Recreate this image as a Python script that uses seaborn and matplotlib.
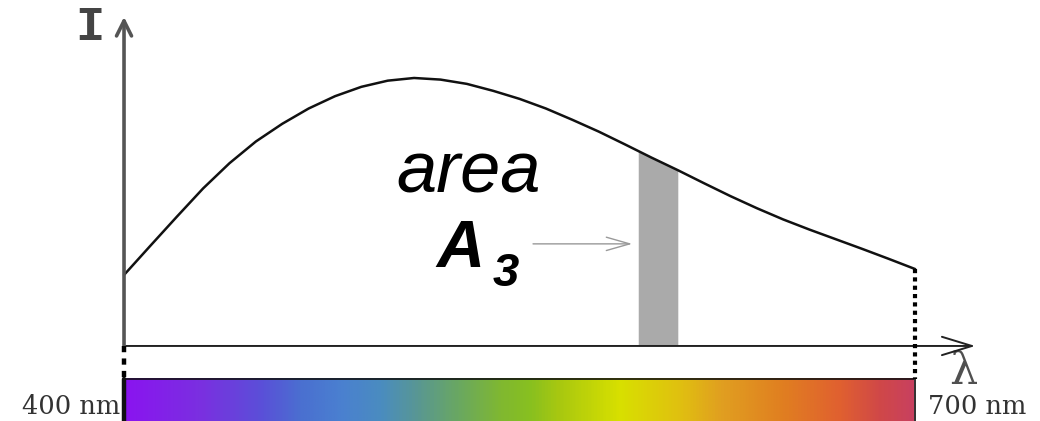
import numpy as np
import matplotlib
matplotlib.use("Agg")
import matplotlib.pyplot as plt
import seaborn as sns
from matplotlib.colors import LinearSegmentedColormap

# Emission curve: relative intensity (peak = 100) against wavelength in nm
wavelength_nm = [400, 410, 420, 430, 440, 450, 460, 470, 480, 490, 500,
                 510, 520, 530, 540, 550, 560, 570, 580, 590, 600,
                 610, 620, 630, 640, 650, 660, 670, 680, 690, 700]
intensity = [26.5, 37.4, 48.2, 58.8, 68.2, 76.3, 82.9, 88.6, 93.2, 96.7, 99.0,
             100.0, 99.4, 97.8, 95.2, 92.2, 88.6, 84.4, 80.0, 75.2, 70.3,
             65.6, 60.7, 55.9, 51.4, 47.2, 43.4, 39.8, 36.2, 32.5, 28.7]

# Narrow wavelength band whose area is highlighted
band_nm = [595, 610]

# Colour stops of the visible-spectrum strip
spectrum_nm = [400, 429, 452, 467, 482, 497, 512, 527, 543, 554, 565,
               588, 611, 626, 649, 672, 687, 700]
spectrum_colors = ["#8a14f0", "#7a30e0", "#5a50d8", "#4a70d0", "#4a80d0",
                   "#4a8cc0", "#5a9890", "#6aa860", "#80b830", "#88c020",
                   "#a8c810", "#d8e000", "#e0c010", "#e0a020", "#e08020",
                   "#e06030", "#d04848", "#c84060"]

y_label = "I"
x_label = "λ"
range_labels = ["400 nm", "700 nm"]
area_word = "area"
area_name = ["A", "3"]

sns.set_theme(style="white")

fig = plt.figure(figsize=(10.4, 4.21), dpi=100)
ax = fig.add_axes([0, 0, 1, 1])
ax.axis("off")

lo, hi = wavelength_nm[0], wavelength_nm[-1]
strip_top, strip_bottom = -12.3, -28.0
x_end, y_end = 722.8, 122.8

# Visible spectrum strip below the axis
pos = [(w - lo) / (hi - lo) for w in spectrum_nm]
cmap = LinearSegmentedColormap.from_list("spectrum", list(zip(pos, spectrum_colors)))
grad = np.linspace(lo, hi, 800)[None, :]
ax.imshow(grad, extent=[lo, hi, strip_bottom, strip_top], aspect="auto",
          cmap=cmap, vmin=lo, vmax=hi, zorder=1, interpolation="bilinear")
ax.plot([lo, hi], [strip_top, strip_top], color="#111111", lw=1.2, zorder=3)
ax.plot([lo, lo], [strip_top, strip_bottom], color="#111111", lw=3.2, zorder=3)
ax.plot([hi, hi], [strip_top, strip_bottom], color="#333333", lw=1.4, zorder=3)

# Highlighted band under the curve
bx = np.linspace(band_nm[0], band_nm[1], 40)
by = np.interp(bx, wavelength_nm, intensity)
ax.fill_between(bx, 0, by, color="#aaaaaa", lw=0, zorder=2)

# Emission curve
sns.lineplot(x=wavelength_nm, y=intensity, ax=ax, color="#111111",
             linewidth=1.8, zorder=4)

# Axes with arrow heads
ax.annotate("", xy=(x_end, 0), xytext=(lo, 0),
            arrowprops=dict(arrowstyle="->,head_length=1.8,head_width=0.55",
                            color="#222222", lw=1.4, shrinkA=0, shrinkB=0),
            zorder=5)
ax.annotate("", xy=(lo, y_end), xytext=(lo, -0.3),
            arrowprops=dict(arrowstyle="->,head_length=0.9,head_width=0.45",
                            color="#555555", lw=2.6, shrinkA=0, shrinkB=0),
            zorder=5)

# Dotted drop lines at the ends of the range
ax.plot([lo, lo], [0, strip_top], color="black", lw=3.2,
        dashes=(1.4, 1.4), zorder=5)
ax.plot([hi, hi], [intensity[-1], strip_top], color="black", lw=3.0,
        dashes=(1.0, 1.0), zorder=5)

# Labels
ax.text(387.1, 119.0, y_label, family="Liberation Mono", weight="bold",
        fontsize=35, color="#444444", ha="center", va="center")
ax.text(718.2, -14.2, x_label, family="DejaVu Serif",
        fontsize=32, color="#505050", ha="center", va="baseline")
ax.text(398.5, -25.4, range_labels[0], family="DejaVu Serif",
        fontsize=18.5, color="#333333", ha="right", va="baseline")
ax.text(704.9, -25.4, range_labels[1], family="DejaVu Serif",
        fontsize=18.5, color="#333333", ha="left", va="baseline")

ax.text(530.8, 57.1, area_word, family="Liberation Sans", style="italic",
        fontsize=52, color="black", ha="center", va="baseline")
ax.text(518.3, 29.5, area_name[0], family="Liberation Sans", style="italic",
        weight="bold", fontsize=48, color="black", ha="left", va="baseline")
ax.text(539.6, 22.3, area_name[1], family="Liberation Sans", style="italic",
        weight="bold", fontsize=34, color="black", ha="left", va="baseline")

# Pointer from the label to the band
ax.annotate("", xy=(592.7, 38.1), xytext=(555.1, 38.1),
            arrowprops=dict(arrowstyle="->,head_length=1.4,head_width=0.4",
                            color="#999999", lw=1.0, shrinkA=0, shrinkB=0),
            zorder=5)

ax.set_xlim(352.97, 747.35)
ax.set_ylim(strip_bottom, 129.1)

fig.savefig("out.png", dpi=100)
